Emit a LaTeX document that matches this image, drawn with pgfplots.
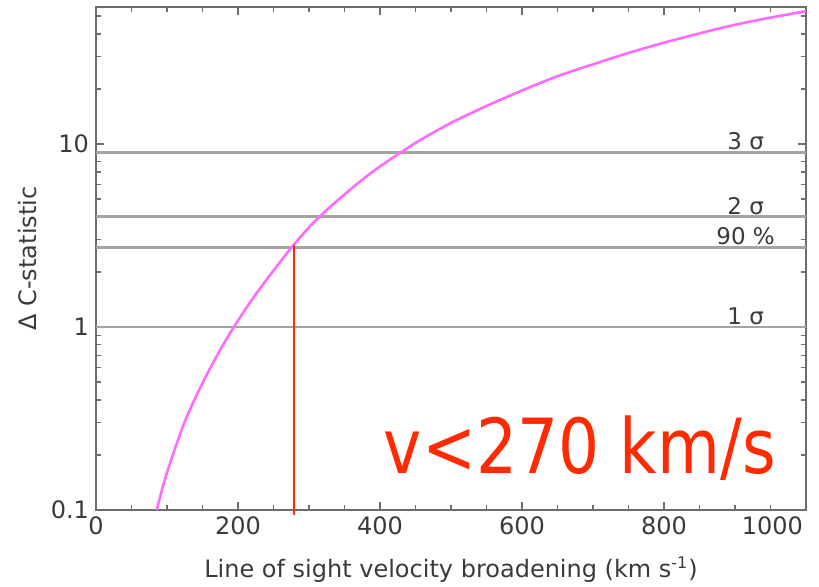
\documentclass[border=0pt]{standalone}
\usepackage{fontspec}
\setmainfont{DejaVu Sans}
\usepackage{pgfplots}
\pgfplotsset{compat=1.18}
\definecolor{curveMag}{HTML}{FF6BFF}
\definecolor{limRed}{HTML}{FF2A00}
\definecolor{frameGray}{HTML}{6E6E6E}
\definecolor{levelGray}{HTML}{A4A4A4}
\definecolor{txtGray}{HTML}{3A3A3A}

\begin{document}
\begin{tikzpicture}
\begin{axis}[
  scale only axis,
  width=355pt, height=251.5pt,
  ymode=log,
  xmin=0, xmax=1000, ymin=0.1, ymax=56,
  xtick={0,200,...,800},
  minor xtick={50,100,...,950},
  extra x ticks={1000},
  extra x tick style={tick label style={anchor=north east, xshift=2pt}},
  ytick={0.1,1,10}, yticklabels={0.1,1,10},
  minor ytick={0.2,0.3,0.4,0.5,0.6,0.7,0.8,0.9,2,3,4,5,6,7,8,9,20,30,40,50},
  tick align=inside,
  major tick length=4pt, minor tick length=2.5pt,
  axis line style={frameGray, line width=1pt},
  tick style={frameGray, line width=0.8pt},
  every tick label/.append style={font=\fontsize{12}{14}\selectfont, text=txtGray},
  /pgf/number format/assume math mode=true,
  /pgf/number format/1000 sep={},
  xlabel={Line of sight velocity broadening (km s\textsuperscript{-1})},
  ylabel={Δ C-statistic},
  x label style={at={(axis description cs:0.5,-0.119)}, anchor=center, font=\fontsize{12}{14}\selectfont, text=txtGray},
  y label style={at={(axis description cs:-0.096,0.5)}, anchor=center, font=\fontsize{12}{14}\selectfont, text=txtGray},
  clip=false
]
% confidence levels
\addplot[levelGray, line width=1.3pt] coordinates {(0,9) (1000,9)};
\addplot[levelGray, line width=1.3pt] coordinates {(0,4) (1000,4)};
\addplot[levelGray, line width=1.3pt] coordinates {(0,2.71) (1000,2.71)};
\addplot[levelGray, line width=1.3pt] coordinates {(0,1) (1000,1)};

% delta C curve
\addplot[curveMag, line width=1.3pt, smooth] coordinates {
  (85.5,0.100) (100,0.160) (125,0.303) (150,0.493) (175,0.750)
  (200,1.084) (225,1.507) (250,2.032) (275,2.704) (300,3.499)
  (325,4.355) (350,5.297) (375,6.37) (400,7.534) (450,10.12)
  (500,13.03) (550,16.11) (600,19.59) (650,23.44) (700,27.23)
  (750,31.41) (800,35.73) (850,40.18) (900,44.77) (950,48.98)
  (1000,53.09)
};

% upper limit
\addplot[limRed, line width=0.9pt] coordinates {(279,0.094) (279,2.81)};

\node[anchor=south, inner sep=1pt, font=\fontsize{11.5}{13}\selectfont, text=txtGray] at (axis cs:915,9) {3 σ};
\node[anchor=south, inner sep=1pt, font=\fontsize{11.5}{13}\selectfont, text=txtGray] at (axis cs:915,4) {2 σ};
\node[anchor=south, inner sep=1pt, font=\fontsize{11.5}{13}\selectfont, text=txtGray] at (axis cs:915,2.71) {90 \%};
\node[anchor=south, inner sep=1pt, font=\fontsize{11.5}{13}\selectfont, text=txtGray] at (axis cs:915,1) {1 σ};

\node[anchor=base east, inner sep=0pt, text=limRed, font=\fontsize{38}{40}\selectfont] at (axis cs:958,0.159) {\scalebox{0.85}[1]{v<270 km/s}};

\coordinate (sw) at (rel axis cs:0,0);
\end{axis}
\pgfresetboundingbox
\path[use as bounding box] ([shift={(-48pt,-38.5pt)}]sw) rectangle ([shift={(361.5pt,255pt)}]sw);
\end{tikzpicture}
\end{document}
